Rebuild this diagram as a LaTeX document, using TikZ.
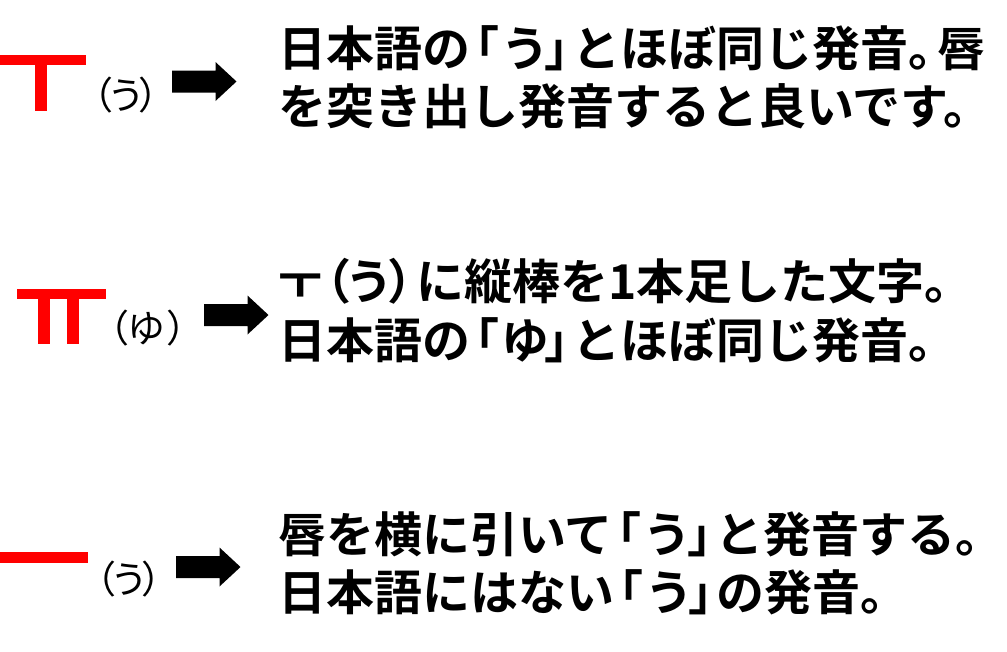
\documentclass[tikz,border=0pt]{standalone}
\usepackage{fontspec}
\setmainfont{Noto Sans CJK JP}[BoldFont={Noto Sans CJK JP Bold}]
\newcommand\jlb{\kern-.4em「\kern.05em}
\newcommand\jrb{\kern-.1em」\kern-.42em}
\tikzset{
  maintxt/.style={anchor=base west, inner sep=0pt, font=\fontsize{48}{52}\selectfont\bfseries},
  lbl/.style={anchor=base, inner sep=0pt, font=\fontsize{38}{42}\selectfont},
  vowel/.style={fill=red, draw=none},
  blockarrow/.style={fill=black, draw=none}
}
\newcommand\barrow[1]{\fill[blockarrow] (#1) ++(0,-11) -- ++(43.5,0) -- ++(0,-8.5) -- ++(21,19.5) -- ++(-21,19.5) -- ++(0,-8.5) -- ++(-43.5,0) -- cycle;}
\begin{document}
\begin{tikzpicture}[x=1pt,y=-1pt]
\useasboundingbox (0,0) rectangle (1007,651);
% red vowels
\fill[vowel] (-4,55) rectangle (86,65);
\fill[vowel] (35,55) rectangle (47,111);
\fill[vowel] (17,289) rectangle (106,299);
\fill[vowel] (38,289) rectangle (50,344);
\fill[vowel] (67,289) rectangle (79,344);
\fill[vowel] (-5,552) rectangle (88,563);
% labels
\node[lbl] (l1) at (126,109) {（\kern-.15emう\kern-.18em）};
\node[lbl] (l2) at (148,342) {（\kern-.05emゆ\kern.05em）};
\node[lbl] (l3) at (129,593) {（\kern-.15emう\kern-.18em）};
% arrows
\coordinate (a1) at (172,81.5);
\coordinate (a2) at (204,315);
\coordinate (a3) at (176,567);
\barrow{a1}
\barrow{a2}
\barrow{a3}
% texts
\node[maintxt] (t1) at (278,66) {日本語の\jlb う\jrb とほぼ同じ発音。\kern-.4em唇};
\node[maintxt] (t2) at (278,124) {を突き出し発音すると良いです。};
\node[maintxt] (t3) at (278,299) {ㅜ\kern-.4em（\kern-.12emう\kern-.12em）\kern-.4emに縦棒を1本足した文字。};
\node[maintxt] (t4) at (278,358) {日本語の\jlb ゆ\jrb とほぼ同じ発音。};
\node[maintxt] (t5) at (278,552) {唇を横に引いて\jlb う\jrb と発音する。};
\node[maintxt] (t6) at (278,610) {日本語にはない\jlb う\jrb の発音。};
\end{tikzpicture}
\end{document}
